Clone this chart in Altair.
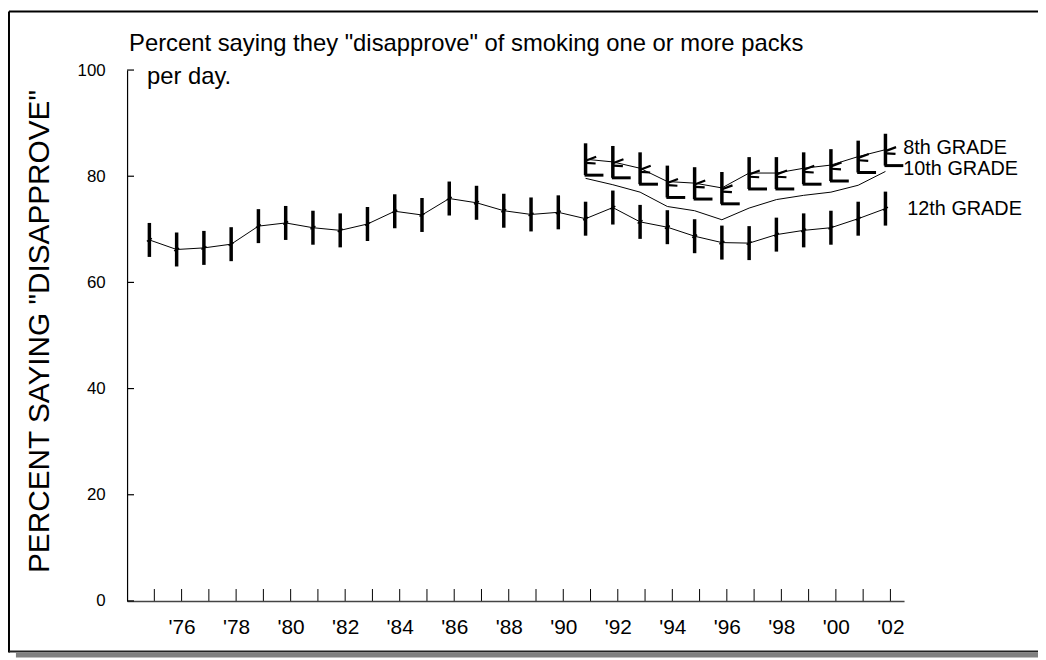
import altair as alt
import pandas as pd

# ---------------- data ----------------
years_12 = list(range(1975, 2003))
grade_12 = [68.0, 66.2, 66.5, 67.2, 70.6, 71.2, 70.3, 69.8, 71.0, 73.4,
            72.7, 75.8, 75.0, 73.5, 72.8, 73.2, 72.0, 74.1, 71.4, 70.4,
            68.7, 67.5, 67.4, 69.0, 69.8, 70.3, 72.0, 73.9]
ci_12 = [3.2, 3.2, 3.2, 3.2, 3.2, 3.2, 3.2, 3.2, 3.2, 3.2,
         3.2, 3.2, 3.2, 3.2, 3.2, 3.2, 3.2, 3.2, 3.2, 3.2,
         3.2, 3.2, 3.2, 3.2, 3.2, 3.2, 3.2, 3.2]

years_810 = list(range(1991, 2003))
grade_8 = [83.2, 82.7, 81.5, 79.0, 78.7, 77.8, 80.6, 80.6, 81.5, 82.1, 83.7, 85.0]
ci_8 = [3.0, 3.0, 3.0, 3.0, 3.0, 3.0, 3.0, 3.0, 3.0, 3.0, 3.0, 3.0]
grade_10 = [79.6, 78.4, 77.0, 74.3, 73.5, 71.8, 74.0, 75.6, 76.4, 77.0, 78.3, 80.9]

tick_years = list(range(1975, 2003))
y_tick_values = [0, 20, 40, 60, 80, 100]

series_labels = ["8th GRADE", "10th GRADE"]
series_label_y = [85.4, 81.3]
label_12 = ["12th GRADE"]
label_12_y = [73.8]

title_line1 = 'Percent saying they "disapprove" of smoking one or more packs'
title_line2 = "per day."
y_title = 'PERCENT SAYING "DISAPPROVE"'

# ---------------- layout ----------------
W, H = 783, 535
PADL, PADT = 120, 60
PADR, PADB = 1038 - PADL - W, 652 - PADT - H
FONT = "Liberation Sans"

df12 = pd.DataFrame({
    "year": years_12,
    "v": grade_12,
    "lo": [v - c for v, c in zip(grade_12, ci_12)],
    "hi": [v + c for v, c in zip(grade_12, ci_12)],
})
df8 = pd.DataFrame({
    "year": years_810,
    "v": grade_8,
    "lo": [v - c for v, c in zip(grade_8, ci_8)],
    "hi": [v + c for v, c in zip(grade_8, ci_8)],
})
df10 = pd.DataFrame({"year": years_810, "v": grade_10})
df_ticks = pd.DataFrame({"year": tick_years})
df_yticks = pd.DataFrame({"v": y_tick_values})
df_lab = pd.DataFrame({"year": [2002, 2002], "v": series_label_y, "t": series_labels})
df_lab12 = pd.DataFrame({"year": [2002], "v": label_12_y, "t": label_12})
one = pd.DataFrame({"a": [0]})

xs = alt.Scale(domain=[1974, 2002.5], nice=False, zero=False)
ys = alt.Scale(domain=[0, 100], nice=False, zero=False)

xaxis = alt.Axis(
    values=tick_years,
    labelExpr="datum.value % 2 == 0 ? \"'\" + substring(toString(datum.value), 2, 4) : ''",
    tickSize=0, labelFontSize=21, labelFont=FONT, labelColor="black",
    domainColor="#444444", domainWidth=1.5, labelPadding=16, grid=False,
    title=None, labelFlush=False, labelOverlap=False,
)
yaxis = alt.Axis(
    values=y_tick_values, tickSize=0, labelFontSize=17, labelFont=FONT,
    labelColor="black", domainColor="black", domainWidth=1.2, labelPadding=22,
    grid=False, title=None, labelOverlap=False,
)


def X(f="year"):
    return alt.X(f + ":Q", scale=xs, axis=xaxis)


def Y(f="v"):
    return alt.Y(f + ":Q", scale=ys, axis=yaxis)


OFF = -5

# 12th grade
line12 = alt.Chart(df12).mark_line(color="black", strokeWidth=1, xOffset=OFF).encode(x=X(), y=Y())
bars12 = alt.Chart(df12).mark_rule(color="black", strokeWidth=3.5, xOffset=OFF).encode(
    x=X(), y=Y("lo"), y2="hi:Q")
mk12 = alt.Chart(df12).mark_point(shape="M-0.6,0.35L0.6,-0.35", filled=False, color="black",
                                  strokeWidth=1.5, size=70, xOffset=OFF, opacity=1).encode(x=X(), y=Y())

# 8th grade
line8 = alt.Chart(df8).mark_line(color="black", strokeWidth=1, xOffset=OFF).encode(x=X(), y=Y())
bars8 = alt.Chart(df8).mark_rule(color="black", strokeWidth=3.5, xOffset=OFF).encode(
    x=X(), y=Y("lo"), y2="hi:Q")
foot8 = alt.Chart(df8).mark_rule(color="black", strokeWidth=3, xOffset=OFF - 1, x2Offset=13).encode(
    x=X(), x2="year:Q", y=Y("lo"))
mk8 = alt.Chart(df8).mark_point(shape="M-1,0.3L1,-0.45M-0.8,0.65L0.9,0.75", filled=False, color="black",
                                strokeWidth=2.2, size=130, xOffset=OFF + 5, opacity=1).encode(x=X(), y=Y())

# 10th grade
line10 = alt.Chart(df10).mark_line(color="black", strokeWidth=1, xOffset=OFF).encode(x=X(), y=Y())

# inward ticks
xticks = alt.Chart(df_ticks).mark_rule(color="black", strokeWidth=1).encode(
    x=X(), y=alt.value(H), y2=alt.value(H - 12))
yticks = alt.Chart(df_yticks).mark_rule(color="black", strokeWidth=1.2).encode(
    y=Y(), x=alt.value(0), x2=alt.value(7))

# series labels
labs = alt.Chart(df_lab).mark_text(align="left", baseline="middle", dx=13, fontSize=20,
                                   font=FONT, color="black").encode(x=X(), y=Y(), text="t:N")
labs12 = alt.Chart(df_lab12).mark_text(align="left", baseline="middle", dx=17, fontSize=20,
                                       font=FONT, color="black").encode(x=X(), y=Y(), text="t:N")

# titles
t1 = alt.Chart(one).mark_text(text=title_line1, align="left", baseline="alphabetic", fontSize=24,
                              font=FONT, color="black").encode(x=alt.value(2), y=alt.value(-19))
t2 = alt.Chart(one).mark_text(text=title_line2, align="left", baseline="alphabetic", fontSize=24,
                              font=FONT, color="black").encode(x=alt.value(20), y=alt.value(14))
ytitle = alt.Chart(one).mark_text(text=y_title, angle=270, align="center", baseline="middle",
                                  fontSize=30, font=FONT, color="black").encode(
    x=alt.value(-88), y=alt.value(H / 2 - 4))

# frame with shadow
RIGHT = W + PADR
frame_top = alt.Chart(one).mark_rule(color="black", strokeWidth=2).encode(
    x=alt.value(-119), x2=alt.value(RIGHT), y=alt.value(-59))
frame_left = alt.Chart(one).mark_rule(color="black", strokeWidth=2).encode(
    x=alt.value(-119), y=alt.value(-59), y2=alt.value(587))
frame_bottom = alt.Chart(one).mark_rule(color="#222222", strokeWidth=2).encode(
    x=alt.value(-119), x2=alt.value(RIGHT), y=alt.value(586))
shadow = alt.Chart(one).mark_rect(color="#808080").encode(
    x=alt.value(-112), x2=alt.value(RIGHT), y=alt.value(587), y2=alt.value(592))

chart = alt.layer(
    frame_top, frame_left, frame_bottom, shadow,
    line12, bars12, mk12, line10, line8, bars8, foot8, mk8,
    xticks, yticks, labs, labs12, t1, t2, ytitle,
).properties(
    width=W, height=H,
    padding={"left": PADL, "top": PADT, "right": PADR, "bottom": PADB},
    autosize=alt.AutoSizeParams(type="none"),
).configure_view(stroke=None)

chart.save("out.html", embed_options={"renderer": "svg", "actions": False})
